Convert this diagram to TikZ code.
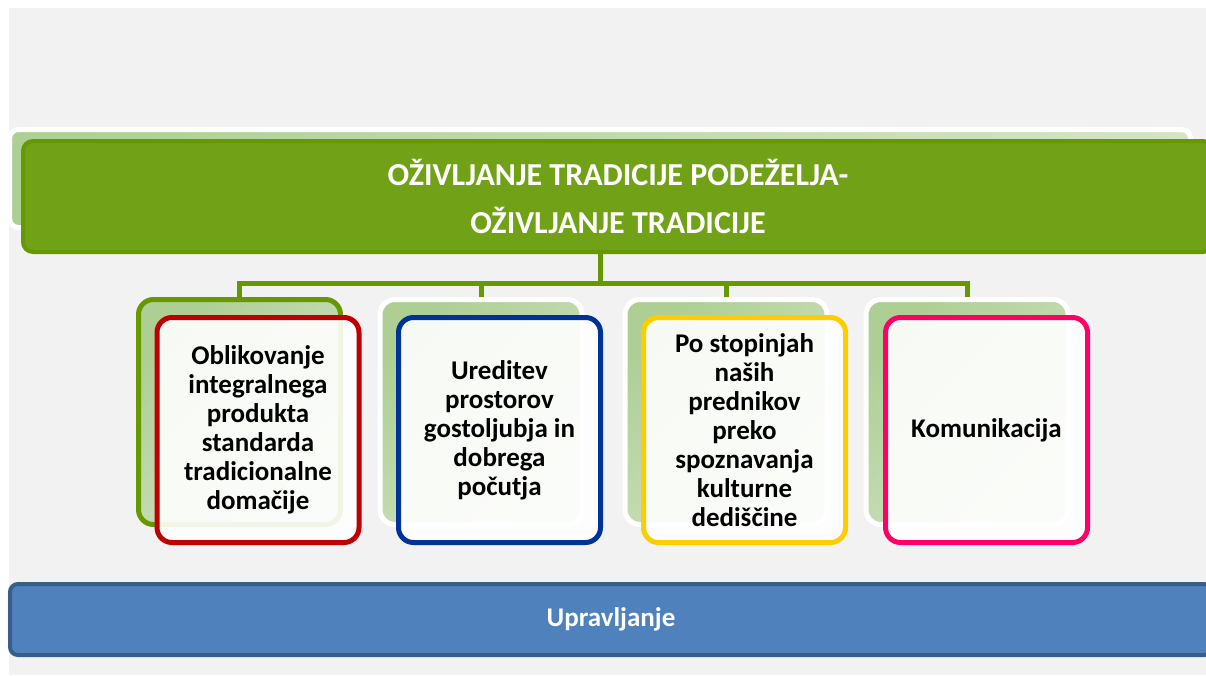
\documentclass[tikz,border=0pt]{standalone}
\usepackage{fontspec}
\setmainfont{Carlito}
\usetikzlibrary{positioning}

\definecolor{bggray}{HTML}{F2F2F2}
\definecolor{leaf}{HTML}{669900}
\definecolor{leaffill}{HTML}{71A116}
\definecolor{paleA}{HTML}{ADCF94}
\definecolor{paleB}{HTML}{D3E4C6}
\definecolor{cRed}{HTML}{C00000}
\definecolor{cBlue}{HTML}{003399}
\definecolor{cGold}{HTML}{FFCC00}
\definecolor{cPink}{HTML}{FF0066}
\definecolor{barfill}{HTML}{4F81BD}
\definecolor{barline}{HTML}{385D8A}

\begin{document}
\begin{tikzpicture}[x=1pt,y=-1pt,
    titleback/.style={rectangle, rounded corners=9pt, draw=white, line width=5pt,
      left color=paleA, right color=paleB, minimum width=1181pt, minimum height=98pt},
    titlebox/.style={rectangle, rounded corners=10pt, draw=leaf, fill=leaffill, line width=4pt,
      minimum width=1190pt, minimum height=111pt, text=white, align=center,
      font=\fontsize{32}{48}\selectfont\bfseries},
    backbox/.style={rectangle, rounded corners=15pt, draw=white, line width=5pt,
      left color=paleA, right color=paleB, shading angle=45,
      minimum width=202pt, minimum height=225pt},
    frontbox/.style={rectangle, rounded corners=15pt, fill=white, fill opacity=.9,
      text opacity=1, line width=5pt, minimum width=202pt, minimum height=225pt,
      align=center, text=black,
      font=\fontsize{27}{29}\selectfont\bfseries},
    conn/.style={draw=leaf, line width=5pt},
    bar/.style={rectangle, rounded corners=8pt, draw=barline, fill=barfill, line width=4pt,
      minimum width=1202pt, minimum height=71pt, text=white,
      font=\fontsize{27}{29}\selectfont\bfseries}]

  \useasboundingbox (0,0) rectangle (1206,675);
  \clip (0,0) rectangle (1206,675);
  \fill[bggray] (9,8) rectangle (1206,675);

  % heading
  \node[titleback] (tb) at (600,178.5) {};
  \node[titlebox] (top) at (618,196.5) {OŽIVLJANJE TRADICIJE PODEŽELJA-\\OŽIVLJANJE TRADICIJE};

  \begin{scope}[every node/.style={backbox}]
    \node[draw=leaf] (b1) at (239.5,412) {};
    \node (b2) at (481,412) {};
    \node (b3) at (726,412) {};
    \node (b4) at (967,412) {};
  \end{scope}

  % tree
  \coordinate (bus) at (600,283);
  \draw[conn] (top.south -| bus) -- (bus);
  \draw[conn] (bus) -| (b1.north);
  \draw[conn] (bus) -| (b2.north);
  \draw[conn] (bus) -| (b3.north);
  \draw[conn] (bus) -| (b4.north);

  \begin{scope}[every node/.style={frontbox}]
    \node[draw=cRed]  (1) at (258,430)   {Oblikovanje\\integralnega\\produkta\\standarda\\tradicionalne\\domačije};
    \node[draw=cBlue] (2) at (499.5,430) {Ureditev\\prostorov\\gostoljubja in\\dobrega\\počutja};
    \node[draw=cGold] (3) at (744.5,430) {Po stopinjah\\naših\\prednikov\\preko\\spoznavanja\\kulturne\\dediščine};
    \node[draw=cPink] (4) at (986.5,430) {Komunikacija};
  \end{scope}

  \node[bar] (bot) at (611,619.5) {Upravljanje};

\end{tikzpicture}
\end{document}
